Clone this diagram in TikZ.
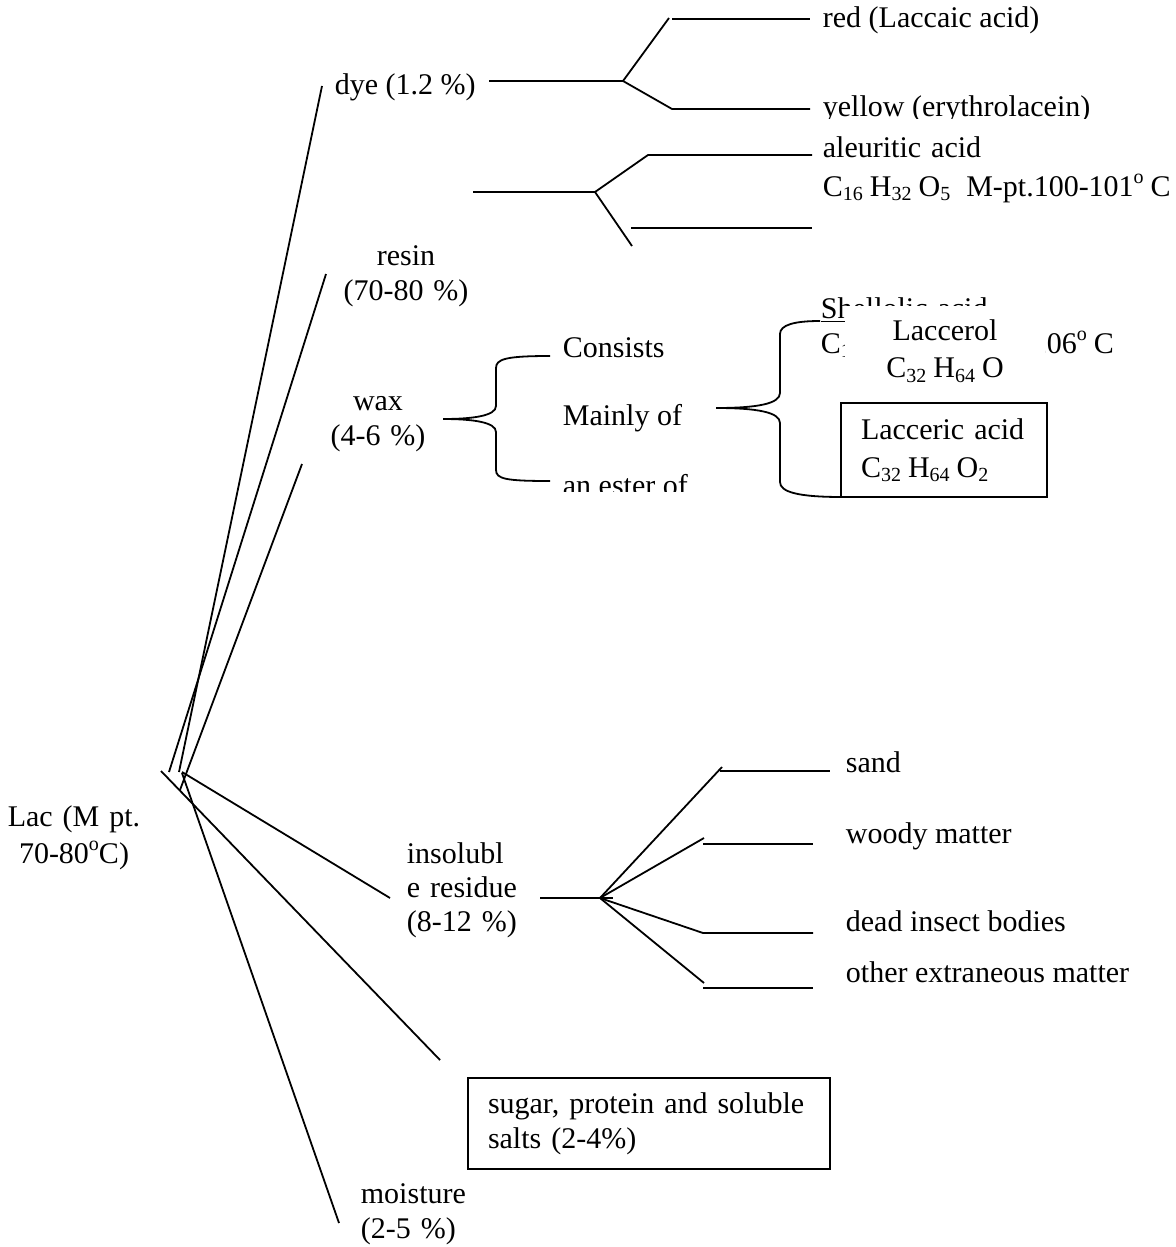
\documentclass[tikz,border=0pt]{standalone}
\usepackage{fontspec}
\setmainfont{Liberation Serif}
\newcommand{\subs}[1]{\raisebox{-0.15em}{\fontsize{10}{10}\selectfont #1}}
\newcommand{\supo}{\raisebox{0.42em}{\fontsize{10}{10}\selectfont o}}
\newcommand{\sgap}{\hspace{3.5pt}}
\begin{document}
\begin{tikzpicture}[x=0.5pt,y=-0.5pt, line width=0.9pt,
  every node/.style={inner sep=0pt, font=\fontsize{15}{17.5}\selectfont},
  lines/.style={font=\fontsize{15}{#1}\selectfont},
  lbl/.style={anchor=base west},
  boxed/.style={draw, line width=0.9pt, rectangle, align=left}]
\useasboundingbox (0,0) rectangle (1175,1247);

% ---------- labels ----------
\node[anchor=base, text width=70pt, align=center, lines=18.5pt] (lac) at (74,826) {Lac (M pt.\\70-80\supo C)};
\node[lbl] (dye) at (334,95) {dye (1.2 \%)};
\node[anchor=base, text width=70pt, align=center, lines=17.5pt] (resin) at (406,265) {resin\\(70-80 \%)};
\node[anchor=base, text width=60pt, align=center, lines=17.5pt] (wax) at (378,410) {wax\\(4-6 \%)};
\node[anchor=base west, text width=60pt, align=left, lines=17pt] (insol) at (406,863) {insolubl\\e residue\\(8-12 \%)};
\node[anchor=base west, text width=60pt, align=left, lines=17.5pt] (moist) at (360,1203) {moisture\\(2-5 \%)};
\node[boxed, minimum width=181pt, minimum height=45.5pt, text width=161pt, lines=17.5pt] (sugar) at (649,1123.5) {sugar, protein and soluble\\salts (2-4\%)};

% dye products
\node[lbl] (red) at (822,28) {red (Laccaic acid)};
\begin{scope}
  \clip (800,0) rectangle (1175,119);
  \node[lbl] (yellow) at (822,117) {yellow (erythrolacein)};
\end{scope}
% resin products
\node[anchor=base west, text width=200pt, align=left, lines=19.5pt] (aleu) at (822,157) {aleuritic acid\\C\subs{16}\sgap H\subs{32}\sgap O\subs{5}\hspace{8pt}M-pt.100-101\supo\hspace{3.5pt}C};
\node[anchor=base west, text width=160pt, align=left, lines=17.5pt] (shell) at (820,318) {\underline{Shellolic acid}\\C\subs{15}\sgap H\subs{20}\sgap O\subs{6}\hspace{8pt}M-pt.206\supo\hspace{3.5pt}C};
\node[fill=white, minimum width=100pt, minimum height=45pt, text width=100pt, align=center, lines=18.5pt] (laccerol) at (945,351) {Laccerol\\C\subs{32}\sgap H\subs{64}\sgap O};
\node[boxed, minimum width=103pt, minimum height=47pt, text width=83pt, lines=19pt] (lacceric) at (944,450) {Lacceric acid\\C\subs{32}\sgap H\subs{64}\sgap O\subs{2}};

% wax
\node[lbl] (consists) at (562,357) {Consists};
\node[lbl] (mainly) at (562,425) {Mainly of};
\begin{scope}
  \clip (550,440) rectangle (760,491);
  \node[lbl] (ester) at (562,495) {an ester of};
\end{scope}

% insoluble residue
\node[lbl] (sand) at (845,772) {sand};
\node[lbl] (woody) at (845,843) {woody matter};
\node[lbl] (insect) at (845,931) {dead insect bodies};
\node[lbl] (other) at (845,982) {other extraneous matter};

% ---------- root lines ----------
\coordinate (rDye) at (179,772);   \coordinate (eDye) at (322,86);
\coordinate (rResin) at (169,772); \coordinate (eResin) at (326,274);
\coordinate (rWax) at (180,790);   \coordinate (eWax) at (302,464);
\coordinate (rSugar) at (161,771); \coordinate (eSugar) at (440,1060);
\coordinate (rIns) at (182,772);   \coordinate (eIns) at (390,898);
\coordinate (rMoist) at (182,773); \coordinate (eMoist) at (339,1223);
\draw (rDye) -- (eDye);
\draw (rResin) -- (eResin);
\draw (rWax) -- (eWax);
\draw (rSugar) -- (eSugar);
\draw (rIns) -- (eIns);
\draw (rMoist) -- (eMoist);

% ---------- dye branch ----------
\coordinate (d0) at (489,81); \coordinate (d1) at (623,81);
\coordinate (d2) at (669,18); \coordinate (d3) at (672,19); \coordinate (d4) at (810,19);
\coordinate (d5) at (672,109); \coordinate (d6) at (810,109);
\draw (d0) -- (d1) -- (d2);
\draw (d3) -- (d4);
\draw (d1) -- (d5) -- (d6);

% ---------- resin branch ----------
\coordinate (s0) at (473,192); \coordinate (s1) at (595,192);
\coordinate (s2) at (648,155); \coordinate (s3) at (812,155);
\coordinate (s4) at (632,246); \coordinate (s5) at (631,228); \coordinate (s6) at (812,228);
\draw (s0) -- (s1) -- (s2) -- (s3);
\draw (s1) -- (s4);
\draw (s5) -- (s6);

% ---------- wax braces ----------
\coordinate (wt) at (443,419);
\draw (wt) .. controls (472,419) and (496,416) .. (496,406) -- (496,368) .. controls (496,359) and (506,356) .. (550,356);
\draw (wt) .. controls (472,419) and (496,422) .. (496,432) -- (496,470) .. controls (496,479) and (506,481) .. (550,481);
\coordinate (mt) at (716,408);
\draw (mt) .. controls (756,408) and (780,404) .. (780,393) -- (780,334) .. controls (780,325) and (794,321) .. (820,321);
\draw (mt) .. controls (756,408) and (780,412) .. (780,423) -- (780,482) .. controls (780,492) and (798,497) .. (842,497);

% ---------- insoluble branch ----------
\coordinate (i0) at (540,898); \coordinate (i1) at (613,898); \coordinate (ib) at (600,898);
\draw (i0) -- (i1);
\draw (ib) -- (722,767); \draw (720,771) -- (830,771);
\draw (ib) -- (704,838); \draw (703,844) -- (813,844);
\draw (ib) -- (703,933) -- (813,933);
\draw (ib) -- (704,983); \draw (703,988) -- (813,988);
\end{tikzpicture}
\end{document}
